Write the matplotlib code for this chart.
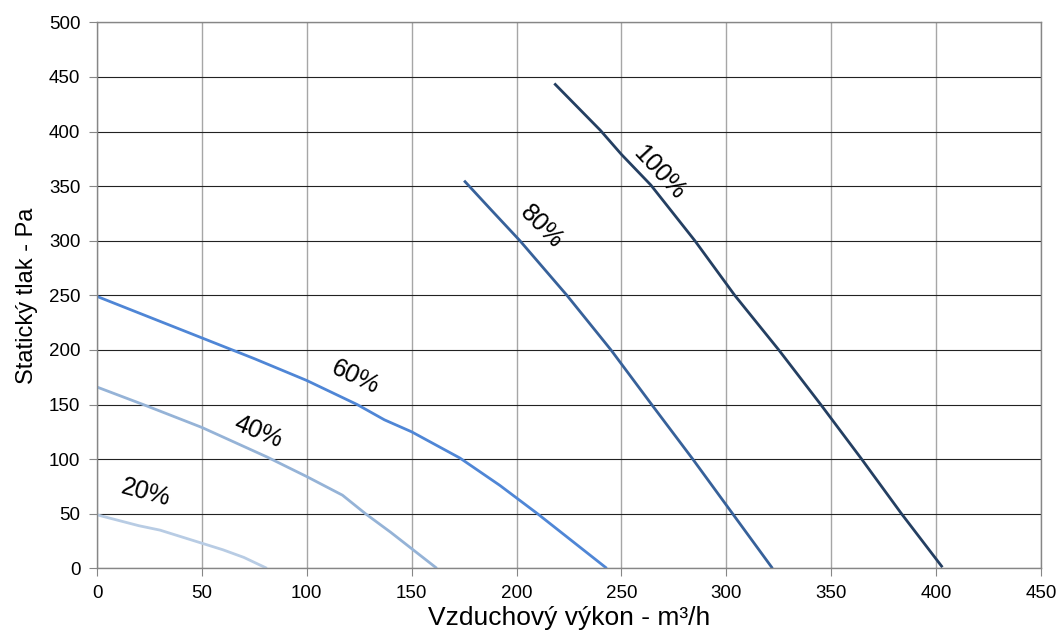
import matplotlib
matplotlib.use("Agg")
import matplotlib.pyplot as plt

plt.rcParams['font.family'] = ['Liberation Sans', 'DejaVu Sans']

# fan curves (x: m3/h, y: Pa)
x20 = [0, 10, 20, 30, 40, 50, 60, 70, 81]
y20 = [49, 44, 39, 35, 29, 23, 17, 10, 0]

x40 = [0, 22, 50, 81, 100, 117, 128, 140, 150, 162]
y40 = [166, 150, 129, 102, 84, 67, 50, 33, 18, 0]

x60 = [0, 25, 50, 75, 100, 124, 137, 150, 173, 192, 210, 243]
y60 = [249, 230, 211, 192, 172, 150, 136, 125, 101, 76, 50, 0]

x80 = [175, 188, 201.6, 224, 245, 264.4, 284, 303, 322]
y80 = [355, 328, 300, 250, 200, 150, 100, 50, 0]

x100 = [218, 240, 250, 264, 285, 304, 325, 345, 364.5, 383.5, 403]
y100 = [444, 401, 379, 351, 300, 250, 200, 150, 100, 50, 1]

series = [
    (x20, y20, '#b8cce4', '20%', 23, 69, -15),
    (x40, y40, '#95b3d7', '40%', 77, 125, -22),
    (x60, y60, '#4f86d6', '60%', 123, 175, -25),
    (x80, y80, '#37619a', '80%', 212, 313, -45),
    (x100, y100, '#243f62', '100%', 268, 362, -47),
]

fig = plt.figure(figsize=(10.59, 6.37), dpi=100)
ax = fig.add_axes([0.0916, 0.1078, 0.8914, 0.8572])

for xs, ys, col, lab, lx, ly, rot in series:
    ax.plot(xs, ys, color=col, lw=2.0, solid_capstyle='butt')
    ax.text(lx, ly, lab, rotation=rot, fontsize=18, ha='center', va='center',
            rotation_mode='anchor')

ax.set_xlim(0, 450)
ax.set_ylim(0, 500)
ax.set_xticks(range(0, 451, 50))
ax.set_yticks(range(0, 501, 50))

ax.yaxis.grid(True, color='#222222', lw=0.8)
ax.xaxis.grid(True, color='#a6a6a6', lw=1.0)
ax.set_axisbelow(True)

for s in ax.spines.values():
    s.set_color('#868686')
    s.set_linewidth(1.0)

ax.tick_params(axis='both', direction='out', length=6, color='#868686',
               labelsize=13.5, pad=6)

ax.set_xlabel('Vzduchový výkon - m³/h', fontsize=19, labelpad=3)
ax.set_ylabel('Statický tlak - Pa', fontsize=17, labelpad=8)

fig.savefig('out.png', dpi=100)
